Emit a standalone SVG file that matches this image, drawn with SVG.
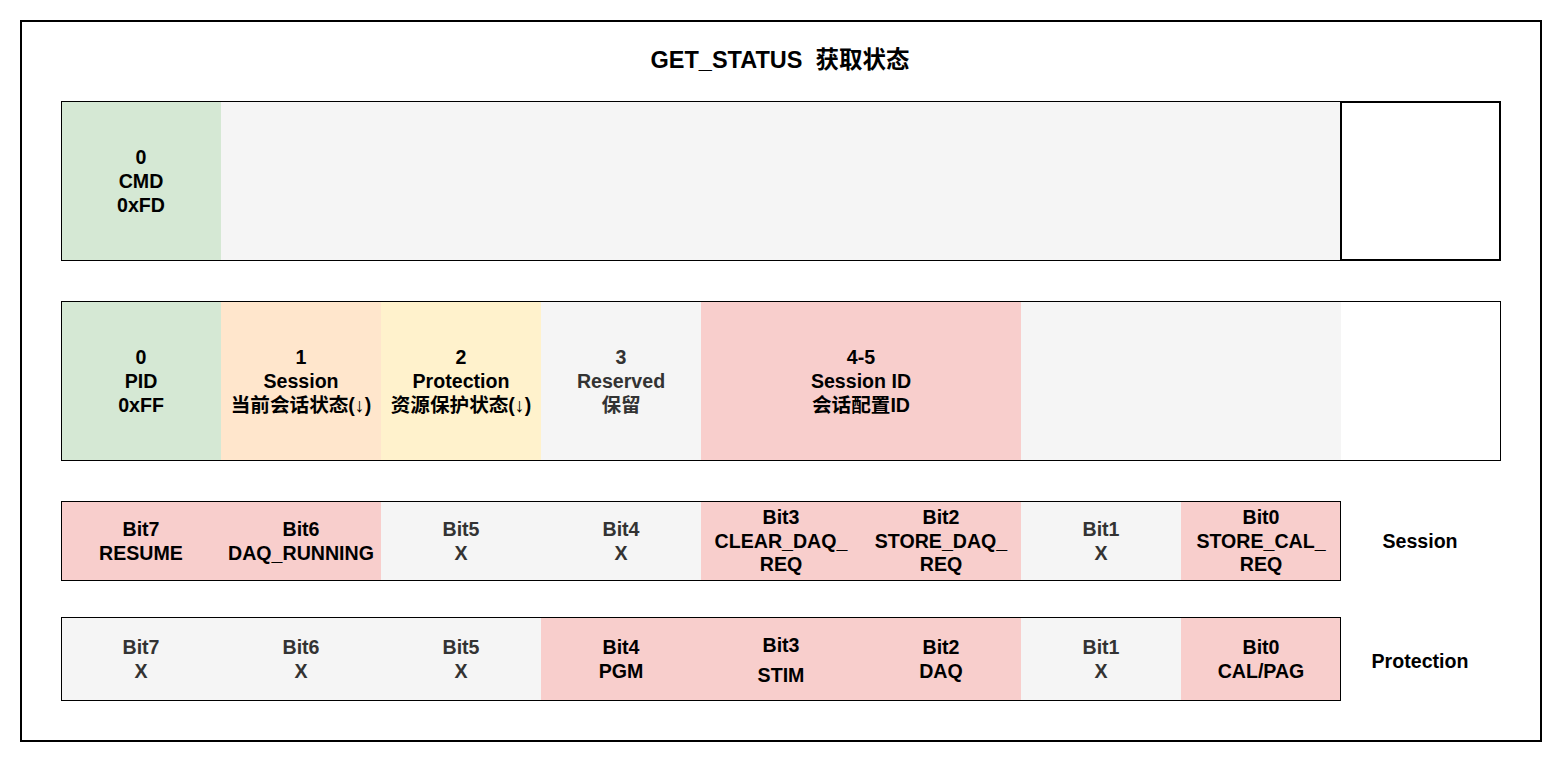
<svg xmlns="http://www.w3.org/2000/svg" width="1564" height="762" viewBox="0 0 1564 762">
<style>
text{font-family:"Liberation Sans","Noto Sans CJK SC",sans-serif;font-weight:bold;font-size:19.6px;text-anchor:middle;fill:#000}
.g{fill:#333333}
.title{font-size:23.5px}
.green{fill:#d5e8d4}
.gray{fill:#f5f5f5}
.orange{fill:#ffe6cc}
.yellow{fill:#fff2cc}
.red{fill:#f8cecc}
.white{fill:#ffffff}
.row{fill:none;stroke:#000;stroke-width:1}
</style>
<rect x="0" y="0" width="1564" height="762" fill="#ffffff"/>
<rect id="frame" x="21" y="21" width="1520" height="720" fill="#ffffff" stroke="#000" stroke-width="2"/>
<text id="title" class="title" x="780" y="68" xml:space="preserve">GET_STATUS&#160; 获取状态</text>

<g id="row1">
<rect class="green" x="61" y="101" width="160" height="160"/>
<rect class="gray" x="221" y="101" width="1120" height="160"/>
<rect class="white" x="1341" y="101" width="160" height="160"/>
<rect class="row" x="61.5" y="101.5" width="1439" height="159"/>
<rect x="1341" y="102" width="159" height="158" fill="none" stroke="#000" stroke-width="2"/>
<text x="141" y="164">0</text><text x="141" y="188">CMD</text><text x="141" y="212">0xFD</text>
</g>

<g id="row2">
<rect class="green" x="61" y="301" width="160" height="160"/>
<rect class="orange" x="221" y="301" width="160" height="160"/>
<rect class="yellow" x="381" y="301" width="160" height="160"/>
<rect class="gray" x="541" y="301" width="160" height="160"/>
<rect class="red" x="701" y="301" width="320" height="160"/>
<rect class="gray" x="1021" y="301" width="320" height="160"/>
<rect class="white" x="1341" y="301" width="160" height="160"/>
<rect class="row" x="61.5" y="301.5" width="1439" height="159"/>
<text x="141" y="364">0</text><text x="141" y="388">PID</text><text x="141" y="412">0xFF</text>
<text x="301" y="364">1</text><text x="301" y="388">Session</text><text x="301" y="412">当前会话状态(↓)</text>
<text x="461" y="364">2</text><text x="461" y="388">Protection</text><text x="461" y="412">资源保护状态(↓)</text>
<text class="g" x="621" y="364">3</text><text class="g" x="621" y="388">Reserved</text><text class="g" x="621" y="412">保留</text>
<text x="861" y="364">4-5</text><text x="861" y="388">Session ID</text><text x="861" y="412">会话配置ID</text>
</g>

<g id="row3">
<rect class="red" x="61" y="501" width="320" height="80"/>
<rect class="gray" x="381" y="501" width="320" height="80"/>
<rect class="red" x="701" y="501" width="320" height="80"/>
<rect class="gray" x="1021" y="501" width="160" height="80"/>
<rect class="red" x="1181" y="501" width="160" height="80"/>
<rect class="row" x="61.5" y="501.5" width="1279" height="79"/>
<text x="141" y="536">Bit7</text><text x="141" y="560">RESUME</text>
<text x="301" y="536">Bit6</text><text x="301" y="560">DAQ_RUNNING</text>
<text class="g" x="461" y="536">Bit5</text><text class="g" x="461" y="560">X</text>
<text class="g" x="621" y="536">Bit4</text><text class="g" x="621" y="560">X</text>
<text x="781" y="524">Bit3</text><text x="781" y="548">CLEAR_DAQ_</text><text x="781" y="571">REQ</text>
<text x="941" y="524">Bit2</text><text x="941" y="548">STORE_DAQ_</text><text x="941" y="571">REQ</text>
<text class="g" x="1101" y="536">Bit1</text><text class="g" x="1101" y="560">X</text>
<text x="1261" y="524">Bit0</text><text x="1261" y="548">STORE_CAL_</text><text x="1261" y="571">REQ</text>
<text x="1420" y="548">Session</text>
</g>

<g id="row4">
<rect class="gray" x="61" y="617" width="480" height="84"/>
<rect class="red" x="541" y="617" width="480" height="84"/>
<rect class="gray" x="1021" y="617" width="160" height="84"/>
<rect class="red" x="1181" y="617" width="160" height="84"/>
<rect class="row" x="61.5" y="617.5" width="1279" height="83"/>
<text class="g" x="141" y="654">Bit7</text><text class="g" x="141" y="678">X</text>
<text class="g" x="301" y="654">Bit6</text><text class="g" x="301" y="678">X</text>
<text class="g" x="461" y="654">Bit5</text><text class="g" x="461" y="678">X</text>
<text x="621" y="654">Bit4</text><text x="621" y="678">PGM</text>
<text x="781" y="652">Bit3</text><text x="781" y="682">STIM</text>
<text x="941" y="654">Bit2</text><text x="941" y="678">DAQ</text>
<text class="g" x="1101" y="654">Bit1</text><text class="g" x="1101" y="678">X</text>
<text x="1261" y="654">Bit0</text><text x="1261" y="678">CAL/PAG</text>
<text x="1420" y="668">Protection</text>
</g>
</svg>
